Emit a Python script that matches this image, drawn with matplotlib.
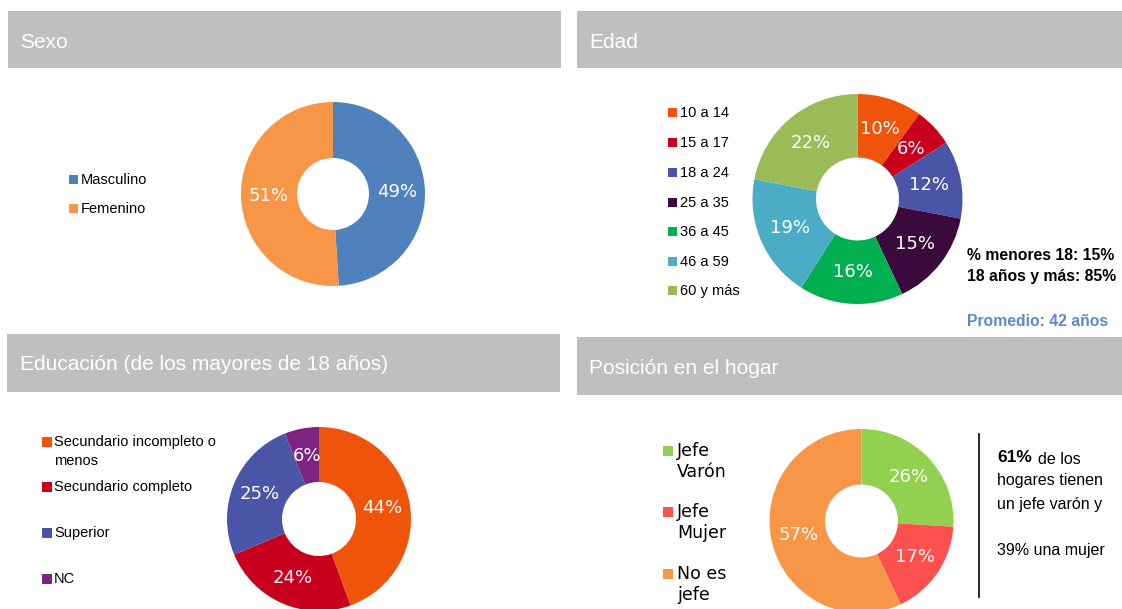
import matplotlib
matplotlib.use("Agg")
import matplotlib.pyplot as plt
from matplotlib.patches import Rectangle
import numpy as np

# --- datos ---
sexo_labels = ["Masculino", "Femenino"]
sexo_vals = [49, 51]
sexo_colors = ["#4F81BD", "#F79646"]

edad_labels = ["10 a 14", "15 a 17", "18 a 24", "25 a 35", "36 a 45", "46 a 59", "60 y más"]
edad_vals = [10, 6, 12, 15, 16, 19, 22]
edad_colors = ["#F0540A", "#C8001E", "#4A55A7", "#3B0A3D", "#00B050", "#4BACC6", "#9BBB59"]

edu_labels = ["Secundario incompleto o\nmenos", "Secundario completo", "Superior", "NC"]
edu_vals = [44, 24, 25, 6]
edu_colors = ["#F0540A", "#C8001E", "#4A55A7", "#7B2480"]

pos_labels = ["Jefe\nVarón", "Jefe\nMujer", "No es\njefe"]
pos_vals = [26, 17, 57]
pos_colors = ["#92D050", "#FF5050", "#F79646"]

W, H = 1122, 609
NARROW = ["Liberation Sans Narrow", "Liberation Sans", "DejaVu Sans"]
HEAD = ["Liberation Sans", "DejaVu Sans"]

fig = plt.figure(figsize=(W / 100, H / 100), dpi=100)
fig.patch.set_facecolor("white")

# fondo en coordenadas de pixel
bg = fig.add_axes([0, 0, 1, 1])
bg.set_xlim(0, W)
bg.set_ylim(H, 0)
bg.axis("off")


def header(x0, y0, x1, y1, titulo, tx, ty):
    bg.add_patch(Rectangle((x0, y0), x1 - x0, y1 - y0, color="#BFBFBF", lw=0))
    bg.text(tx, ty, titulo, color="white", fontsize=15, family=HEAD,
            va="center", ha="left")


def donut(cx, cy, R, r, vals, colors, fs=13):
    ax = fig.add_axes([(cx - R) / W, 1 - (cy + R) / H, 2 * R / W, 2 * R / H])
    wedges, _ = ax.pie(vals, colors=colors, startangle=90, counterclock=False,
                       radius=1, wedgeprops=dict(width=1 - r / R, linewidth=0))
    ax.set_xlim(-1, 1)
    ax.set_ylim(-1, 1)
    ax.set_aspect("equal")
    ax.axis("off")
    rm = (1 + r / R) / 2
    for w, v in zip(wedges, vals):
        ang = np.deg2rad((w.theta1 + w.theta2) / 2)
        ax.text(rm * np.cos(ang), rm * np.sin(ang), f"{v}%", color="white",
                fontsize=fs, family="DejaVu Sans", ha="center", va="center")
    return ax


def leyenda(x, ys, labels, colors, size=9, tx=None, fs=10.5, fam=NARROW):
    for y, lab, c in zip(ys, labels, colors):
        bg.add_patch(Rectangle((x, y - size / 2), size, size, color=c, lw=0))
        bg.text(tx if tx else x + size + 3, y + 1, lab, fontsize=fs, family=fam,
                va="center", ha="left", color="black")


# --- Sexo ---
header(8, 11, 561, 68, "Sexo", 20, 43)
donut(333, 194, 92, 36, sexo_vals, sexo_colors)
leyenda(69, [179, 208], sexo_labels, sexo_colors, size=9, tx=81)

# --- Edad ---
header(577, 11, 1122, 68, "Edad", 589, 43)
donut(857.5, 199, 105, 41.5, edad_vals, edad_colors)
leyenda(668, [112, 142, 172, 202, 231, 261, 290], edad_labels, edad_colors,
        size=9, tx=680)
bg.text(967, 256, "% menores 18: 15%", fontsize=11.3, family=NARROW,
        weight="bold", va="center")
bg.text(967, 277, "18 años y más: 85%", fontsize=11.3, family=NARROW,
        weight="bold", va="center")
bg.text(967, 322, "Promedio: 42 años", fontsize=11.3, family=NARROW,
        weight="bold", va="center", color="#5B8ACB")

# --- Educación ---
header(7, 334, 560, 392, "Educación (de los mayores de 18 años)", 20, 365)
donut(319, 519, 92, 37, edu_vals, edu_colors)
ys_edu = [442, 487, 533, 579]
for y, lab, c in zip(ys_edu, edu_labels, edu_colors):
    bg.add_patch(Rectangle((42, y - 5), 10, 10, color=c, lw=0))
    bg.text(54, y - 7, lab, fontsize=10.5, family=NARROW, va="top", ha="left",
            linespacing=1.45)

# --- Posición en el hogar ---
header(577, 337, 1122, 395, "Posición en el hogar", 589, 369)
donut(861.5, 521, 92, 36.5, pos_vals, pos_colors)
for y, lab, c in zip([451, 512, 574], pos_labels, pos_colors):
    bg.add_patch(Rectangle((663, y - 5), 10, 10, color=c, lw=0))
    bg.text(677, y - 9, lab, fontsize=12.5, family="DejaVu Sans", va="top",
            ha="left", linespacing=1.2)

bg.plot([979, 979], [434, 597], color="black", lw=1.2)
bg.text(997, 458, "61%", fontsize=12.5, family=NARROW, weight="bold", va="center")
bg.text(1038, 459, "de los", fontsize=11.5, family=NARROW, va="center")
bg.text(997, 481, "hogares tienen", fontsize=11.5, family=NARROW, va="center")
bg.text(997, 504, "un jefe varón y", fontsize=11.5, family=NARROW, va="center")
bg.text(997, 550, "39% una mujer", fontsize=11.5, family=NARROW, va="center")

plt.savefig("out.png", dpi=100)
